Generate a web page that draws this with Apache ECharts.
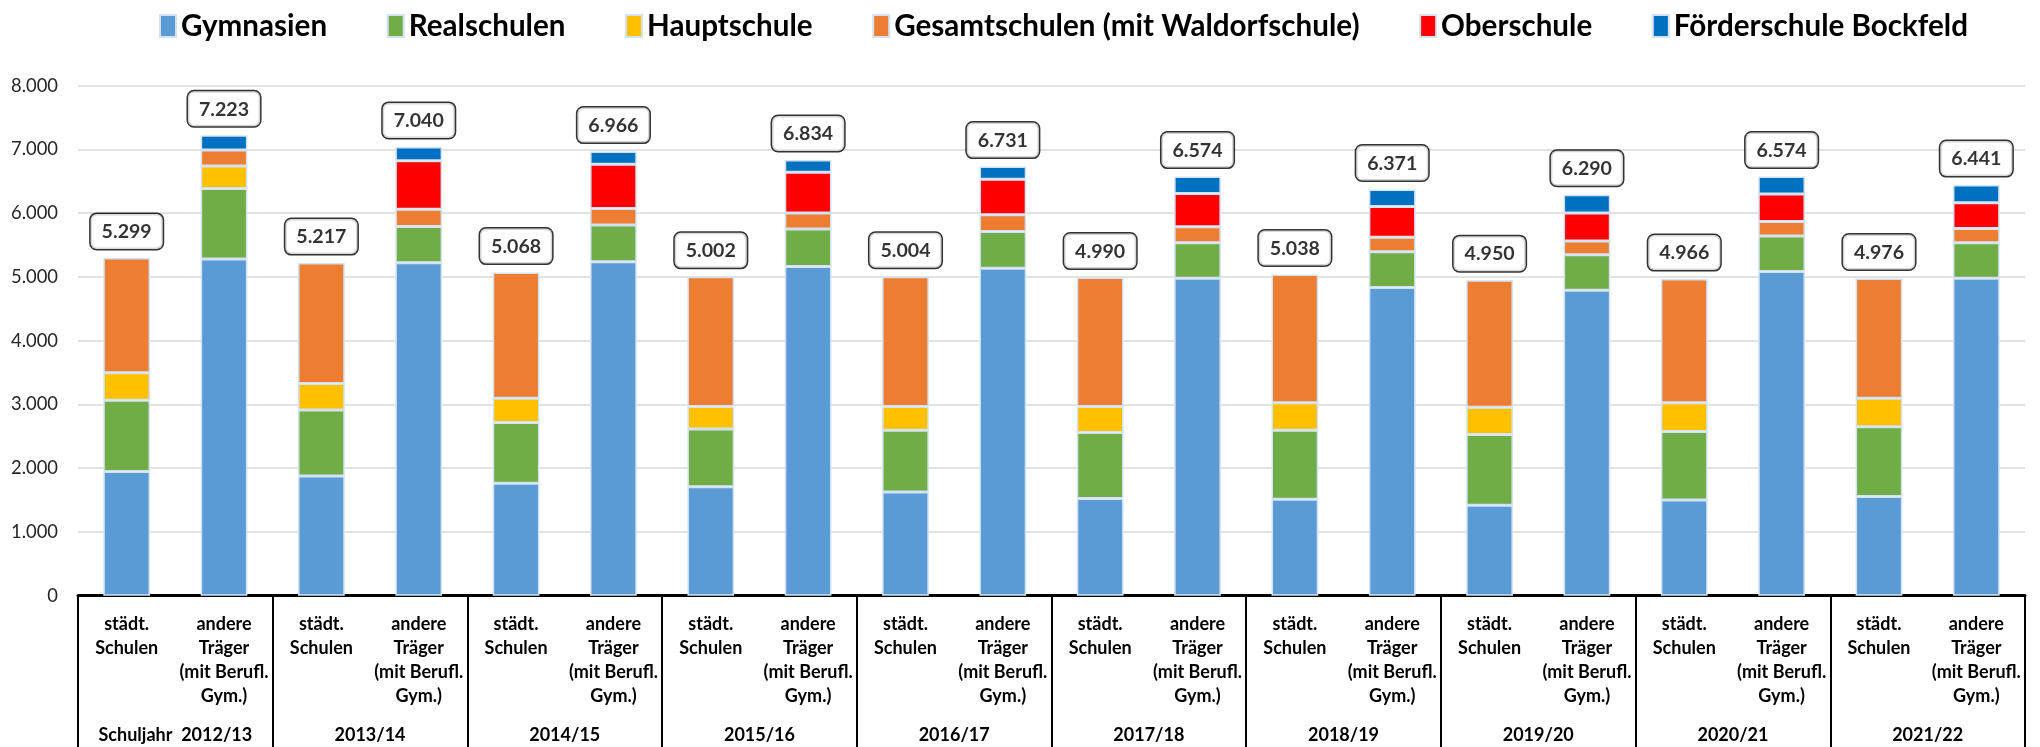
<!DOCTYPE html>
<html>
<head>
<meta charset="utf-8">
<script src="https://cdn.jsdelivr.net/npm/echarts@6/dist/echarts.min.js"></script>
<style>
html,body{margin:0;padding:0;background:#fff;}
#chart{width:2040px;height:747px;}
</style>
</head>
<body>
<div id="chart"></div>
<script>
// ---- data ----
const schoolYears = ['Schuljahr  2012/13','2013/14','2014/15','2015/16','2016/17','2017/18','2018/19','2019/20','2020/21','2021/22'];
const carrierLabels = ['städt.\nSchulen', 'andere\nTräger\n(mit Berufl.\nGym.)'];
const seriesNames = ['Gymnasien','Realschulen','Hauptschule','Gesamtschulen (mit Waldorfschule)','Oberschule','Förderschule Bockfeld'];
// order per year: städt. Schulen, andere Träger
const gymnasien   = [1950, 5283, 1877, 5221, 1765, 5238, 1709, 5165, 1625, 5137, 1524, 4980, 1513, 4835, 1417, 4790, 1501, 5087, 1557, 4980];
const realschulen = [1114, 1103, 1036, 571, 952, 577, 907, 588, 969, 577, 1036, 555, 1081, 560, 1110, 560, 1076, 554, 1093, 555];
const hauptschule = [432, 353, 415, null, 381, null, 353, null, 375, null, 409, null, 431, null, 431, null, 448, null, 448, null];
const gesamtschulen = [1803, 252, 1889, 269, 1970, 258, 2033, 252, 2035, 263, 2021, 252, 2013, 229, 1992, 213, 1941, 230, 1878, 224];
const oberschule  = [null, null, null, 762, null, 694, null, 639, null, 555, null, 521, null, 482, null, 442, null, 431, null, 403];
const foerderschule = [null, 232, null, 217, null, 199, null, 190, null, 199, null, 266, null, 265, null, 285, null, 272, null, 279];
const totals = [5299, 7223, 5217, 7040, 5068, 6966, 5002, 6834, 5004, 6731, 4990, 6574, 5038, 6371, 4950, 6290, 4966, 6574, 4976, 6441];
const yTicks = {min: 0, max: 8000, interval: 1000};

// ---- build ----
const FONT = "Lato, 'Noto Sans', sans-serif";
const mctx = document.createElement('canvas').getContext('2d');
function measure(text, weight, size) { mctx.font = weight + ' ' + size + 'px ' + FONT; return mctx.measureText(text).width; }
function fitSize(text, weight, target) { return Math.round(100 * target / measure(text, weight, 100) * 10) / 10; }

const legendSize = fitSize('Gymnasien', 'bold', 146);
const valueSize = fitSize('5.299', 'bold', 50);
const catSize = fitSize('Schulen', 'bold', 63);
const ySize = fitSize('8.000', 'normal', 47);

const colors = ['#5b9bd5','#70ad47','#ffc000','#ed7d31','#ff0000','#0070c0'];
const values = [gymnasien, realschulen, hauptschule, gesamtschulen, oberschule, foerderschule];
const categories = [];
schoolYears.forEach((y, i) => carrierLabels.forEach((c, k) => categories.push(i + '|' + k)));
const fmt = v => String(v).replace(/\B(?=(\d{3})+(?!\d))/g, '.');

// legend gap so that legend spans 154 .. 1957
const itemW = 16;
const textWidths = seriesNames.map(n => measure(n, 'bold', legendSize));
const legendGap = (1957 - 154 - textWidths.reduce((a, b) => a + b, 0) - seriesNames.length * (itemW + 5)) / (seriesNames.length - 1);

const series = seriesNames.map((name, i) => ({
  name: name,
  type: 'bar',
  stack: 'total',
  xAxisIndex: 0,
  barWidth: '48%',
  data: values[i].map(v => v == null ? '-' : v),
  itemStyle: {color: colors[i], borderColor: '#d3e2f2', borderWidth: 1.5},
  emphasis: {disabled: true}
}));
series.push({
  name: 'Summe',
  type: 'scatter',
  xAxisIndex: 0,
  symbolSize: 0,
  data: totals,
  z: 10,
  label: {
    show: true,
    position: 'top',
    distance: 9,
    formatter: p => fmt(p.value),
    fontFamily: FONT,
    fontWeight: 'bold',
    fontSize: valueSize,
    color: '#000',
    backgroundColor: '#fff',
    borderColor: '#000',
    borderWidth: 1.5,
    borderRadius: 6,
    padding: [6, 11, 5, 11],
    lineHeight: 24
  }
});

const chart = echarts.init(document.getElementById('chart'), null, {renderer: 'canvas'});
chart.setOption({
  animation: false,
  backgroundColor: '#fff',
  legend: {
    data: seriesNames,
    left: 154,
    top: 6,
    itemWidth: itemW,
    itemHeight: 22,
    itemGap: legendGap,
    icon: 'rect',
    textStyle: {fontFamily: FONT, fontWeight: 'bold', fontSize: legendSize, color: '#000'}
  },
  grid: {left: 78, right: 15, top: 85.7, bottom: 151.3, containLabel: false},
  xAxis: [
    {
      type: 'category',
      data: categories,
      position: 'bottom',
      axisLine: {show: true, lineStyle: {color: '#000', width: 3}},
      axisTick: {show: false},
      axisLabel: {
        interval: 0,
        margin: 16,
        formatter: v => carrierLabels[+v.split('|')[1]],
        fontFamily: FONT, fontWeight: 'bold', fontSize: catSize, lineHeight: 24, color: '#000'
      }
    },
    {
      type: 'category',
      data: schoolYears,
      position: 'bottom',
      axisLine: {show: false},
      axisTick: {show: true, length: 152, lineStyle: {color: '#000', width: 2}},
      axisLabel: {
        interval: 0,
        margin: 127,
        fontFamily: FONT, fontWeight: 'bold', fontSize: catSize, lineHeight: 24, color: '#000'
      }
    }
  ],
  yAxis: {
    type: 'value',
    min: yTicks.min, max: yTicks.max, interval: yTicks.interval,
    axisLine: {show: false},
    axisTick: {show: false},
    splitLine: {lineStyle: {color: '#d9d9d9', width: 1.5}},
    axisLabel: {margin: 20, formatter: v => fmt(v), fontFamily: FONT, fontSize: ySize, color: '#262626'}
  },
  series: series
});
</script>
</body>
</html>
